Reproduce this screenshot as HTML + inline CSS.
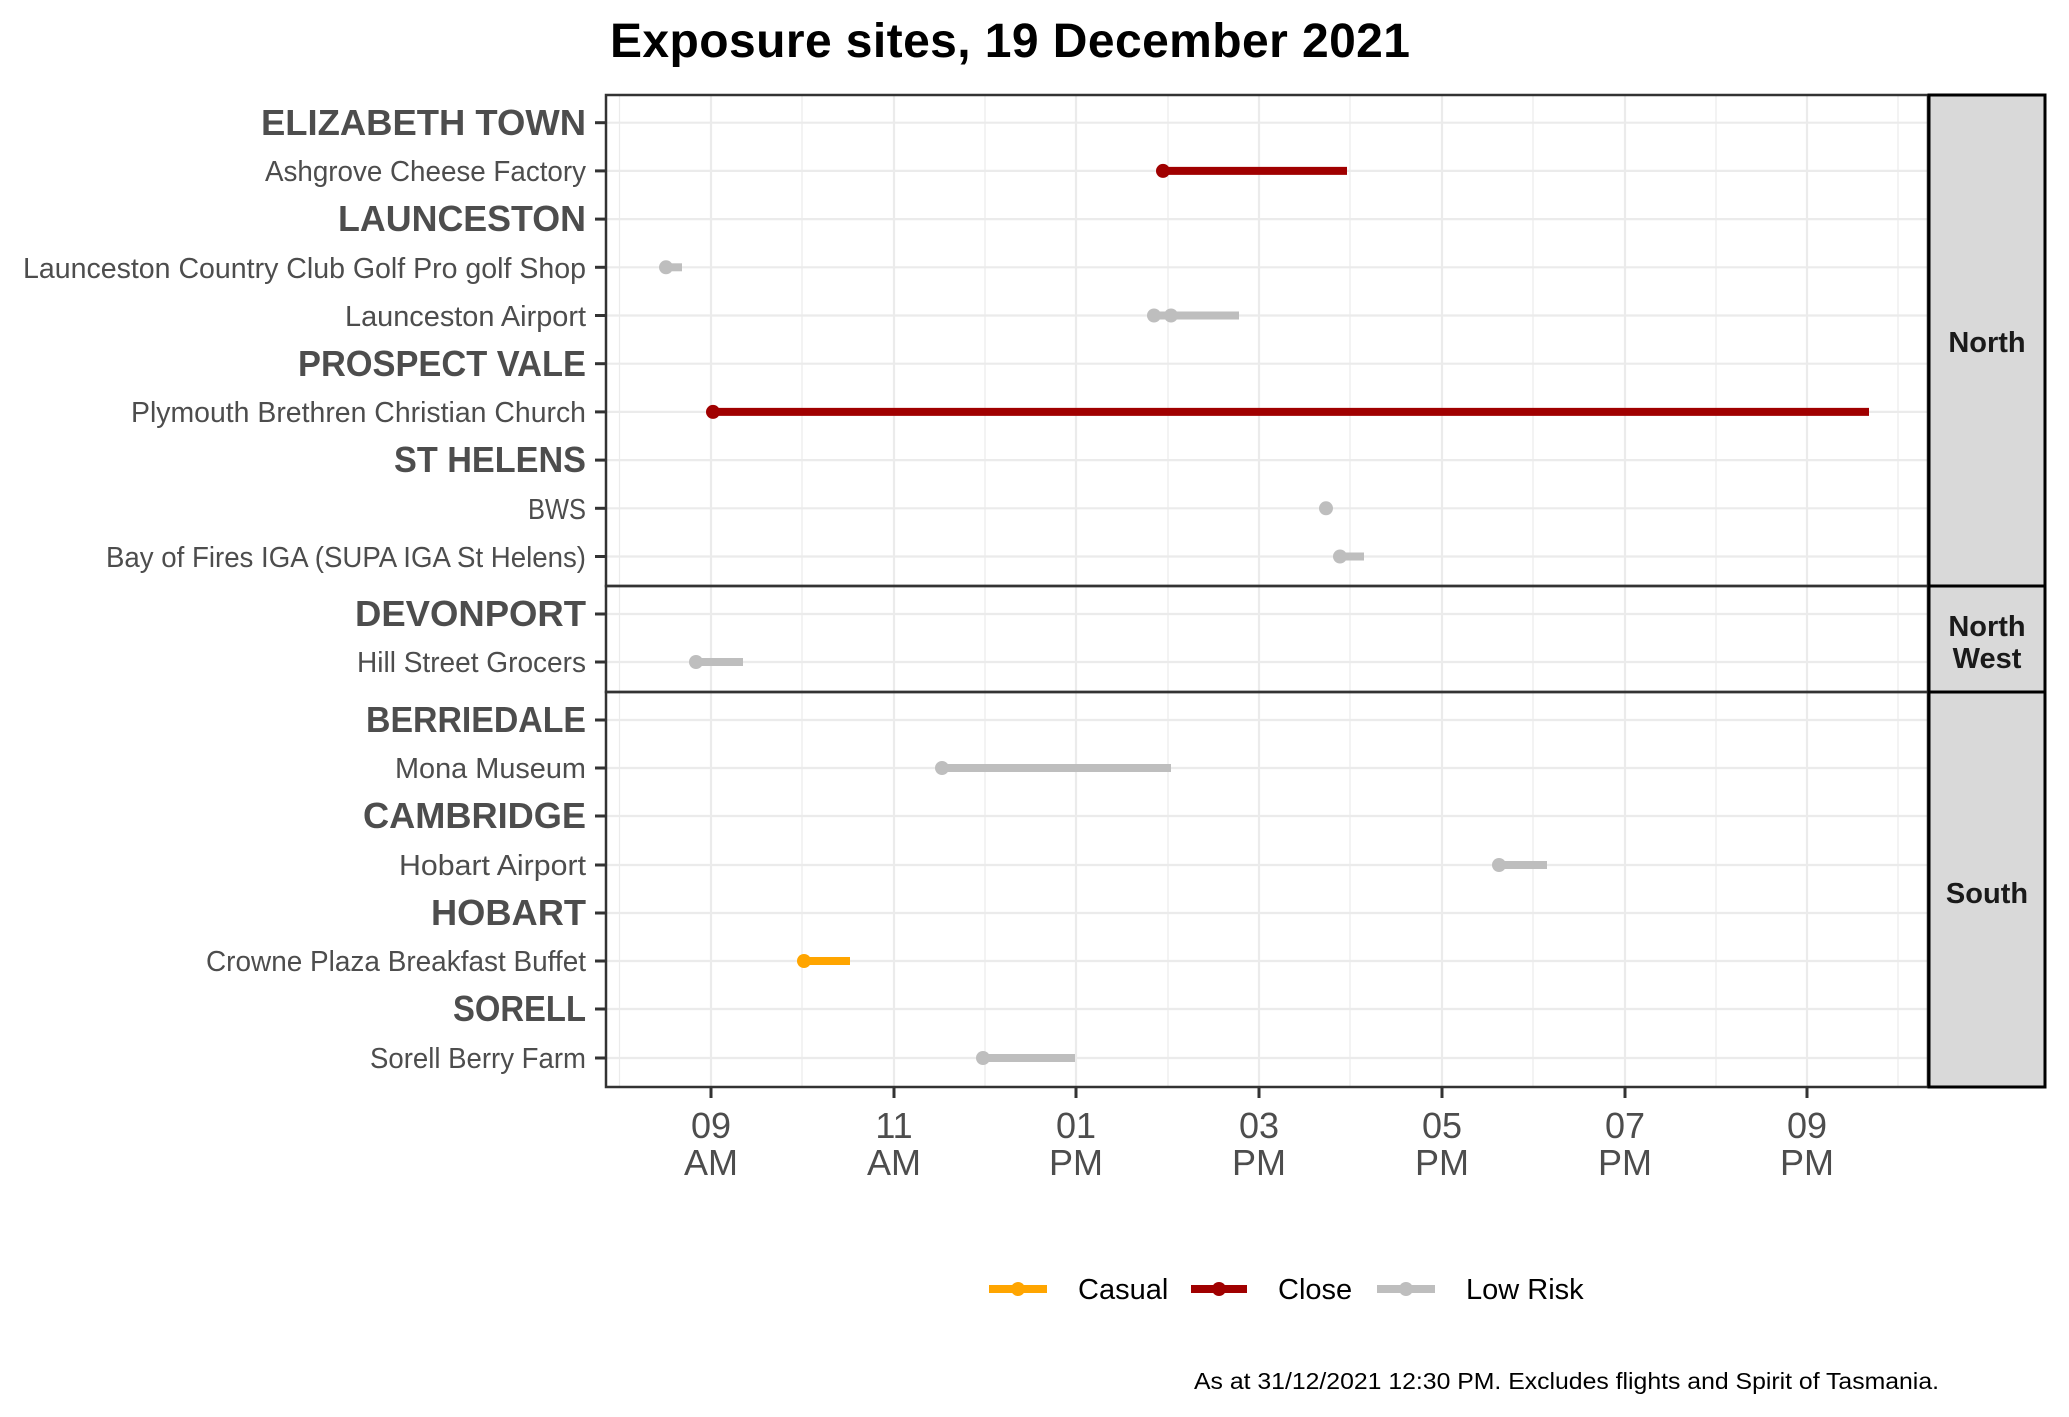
<!DOCTYPE html>
<html><head><meta charset="utf-8"><style>html,body{margin:0;padding:0;background:#fff}svg{display:block}</style></head>
<body>
<svg width="2069" height="1417" viewBox="0 0 2069 1417" xmlns="http://www.w3.org/2000/svg" font-family="Liberation Sans, DejaVu Sans, sans-serif">
<rect width="2069" height="1417" fill="#fff"/>
<text x="1010" y="57" font-size="48" font-weight="bold" text-anchor="middle" fill="#000" textLength="800">Exposure sites, 19 December 2021</text>
<g stroke="#EBEBEB">
<g stroke-width="1.2">
<line x1="619.5" y1="95" x2="619.5" y2="1087"/><line x1="802" y1="95" x2="802" y2="1087"/><line x1="985" y1="95" x2="985" y2="1087"/><line x1="1168" y1="95" x2="1168" y2="1087"/><line x1="1350" y1="95" x2="1350" y2="1087"/><line x1="1533" y1="95" x2="1533" y2="1087"/><line x1="1716" y1="95" x2="1716" y2="1087"/><line x1="1898" y1="95" x2="1898" y2="1087"/>
</g>
<g stroke-width="2.2">
<line x1="711" y1="95" x2="711" y2="1087"/><line x1="894" y1="95" x2="894" y2="1087"/><line x1="1076" y1="95" x2="1076" y2="1087"/><line x1="1259" y1="95" x2="1259" y2="1087"/><line x1="1442" y1="95" x2="1442" y2="1087"/><line x1="1625" y1="95" x2="1625" y2="1087"/><line x1="1807" y1="95" x2="1807" y2="1087"/>
<line x1="606" y1="122.7" x2="1928" y2="122.7"/><line x1="606" y1="170.9" x2="1928" y2="170.9"/><line x1="606" y1="219.1" x2="1928" y2="219.1"/><line x1="606" y1="267.3" x2="1928" y2="267.3"/><line x1="606" y1="315.5" x2="1928" y2="315.5"/><line x1="606" y1="363.7" x2="1928" y2="363.7"/><line x1="606" y1="411.9" x2="1928" y2="411.9"/><line x1="606" y1="460.1" x2="1928" y2="460.1"/><line x1="606" y1="508.3" x2="1928" y2="508.3"/><line x1="606" y1="556.5" x2="1928" y2="556.5"/>
<line x1="606" y1="614" x2="1928" y2="614"/><line x1="606" y1="662" x2="1928" y2="662"/>
<line x1="606" y1="720" x2="1928" y2="720"/><line x1="606" y1="768" x2="1928" y2="768"/><line x1="606" y1="816" x2="1928" y2="816"/><line x1="606" y1="865" x2="1928" y2="865"/><line x1="606" y1="913" x2="1928" y2="913"/><line x1="606" y1="961" x2="1928" y2="961"/><line x1="606" y1="1009" x2="1928" y2="1009"/><line x1="606" y1="1058" x2="1928" y2="1058"/>
</g></g>
<g stroke-width="8">
<line x1="1163" y1="170.9" x2="1347" y2="170.9" stroke="#A00000"/>
<line x1="666" y1="267.3" x2="682" y2="267.3" stroke="#BEBEBE"/>
<line x1="1154" y1="315.5" x2="1239" y2="315.5" stroke="#BEBEBE"/>
<line x1="713" y1="411.9" x2="1869" y2="411.9" stroke="#A00000"/>
<line x1="1340" y1="556.5" x2="1364" y2="556.5" stroke="#BEBEBE"/>
<line x1="696" y1="662" x2="743" y2="662" stroke="#BEBEBE"/>
<line x1="942" y1="768" x2="1171" y2="768" stroke="#BEBEBE"/>
<line x1="1499" y1="865" x2="1547" y2="865" stroke="#BEBEBE"/>
<line x1="804" y1="961" x2="850" y2="961" stroke="#FFA500"/>
<line x1="983" y1="1058" x2="1075" y2="1058" stroke="#BEBEBE"/>
</g>
<g>
<circle cx="1163" cy="170.9" r="7" fill="#A00000"/>
<circle cx="666" cy="267.3" r="7" fill="#BEBEBE"/>
<circle cx="1154" cy="315.5" r="7" fill="#BEBEBE"/><circle cx="1171" cy="315.5" r="7" fill="#BEBEBE"/>
<circle cx="713" cy="411.9" r="7" fill="#A00000"/>
<circle cx="1326" cy="508.3" r="7" fill="#BEBEBE"/>
<circle cx="1340" cy="556.5" r="7" fill="#BEBEBE"/>
<circle cx="696" cy="662" r="7" fill="#BEBEBE"/>
<circle cx="942" cy="768" r="7" fill="#BEBEBE"/>
<circle cx="1499" cy="865" r="7" fill="#BEBEBE"/>
<circle cx="804" cy="961" r="7" fill="#FFA500"/>
<circle cx="983" cy="1058" r="7" fill="#BEBEBE"/>
</g>
<g fill="none" stroke="#333" stroke-width="2.5">
<rect x="606" y="95" width="1322" height="491"/>
<rect x="606" y="586" width="1322" height="106"/>
<rect x="606" y="692" width="1322" height="395"/>
</g>
<g fill="#D9D9D9" stroke="#000" stroke-width="3">
<rect x="1929" y="95" width="116" height="491"/>
<rect x="1929" y="586" width="116" height="106"/>
<rect x="1929" y="692" width="116" height="395"/>
</g>
<g font-size="29" font-weight="bold" fill="#1a1a1a" text-anchor="middle">
<text x="1987" y="352">North</text>
<text x="1987" y="636">North</text><text x="1987" y="668">West</text>
<text x="1987" y="903">South</text>
</g>
<g stroke="#333" stroke-width="3">
<line x1="595" y1="122.7" x2="606" y2="122.7"/><line x1="595" y1="170.9" x2="606" y2="170.9"/><line x1="595" y1="219.1" x2="606" y2="219.1"/><line x1="595" y1="267.3" x2="606" y2="267.3"/><line x1="595" y1="315.5" x2="606" y2="315.5"/><line x1="595" y1="363.7" x2="606" y2="363.7"/><line x1="595" y1="411.9" x2="606" y2="411.9"/><line x1="595" y1="460.1" x2="606" y2="460.1"/><line x1="595" y1="508.3" x2="606" y2="508.3"/><line x1="595" y1="556.5" x2="606" y2="556.5"/>
<line x1="595" y1="614" x2="606" y2="614"/><line x1="595" y1="662" x2="606" y2="662"/>
<line x1="595" y1="720" x2="606" y2="720"/><line x1="595" y1="768" x2="606" y2="768"/><line x1="595" y1="816" x2="606" y2="816"/><line x1="595" y1="865" x2="606" y2="865"/><line x1="595" y1="913" x2="606" y2="913"/><line x1="595" y1="961" x2="606" y2="961"/><line x1="595" y1="1009" x2="606" y2="1009"/><line x1="595" y1="1058" x2="606" y2="1058"/>
<line x1="711" y1="1087" x2="711" y2="1098"/><line x1="894" y1="1087" x2="894" y2="1098"/><line x1="1076" y1="1087" x2="1076" y2="1098"/><line x1="1259" y1="1087" x2="1259" y2="1098"/><line x1="1442" y1="1087" x2="1442" y2="1098"/><line x1="1625" y1="1087" x2="1625" y2="1098"/><line x1="1807" y1="1087" x2="1807" y2="1098"/>
</g>
<g fill="#4D4D4D" text-anchor="end">
<g font-size="36" font-weight="bold">
<text x="586" y="135" textLength="325" lengthAdjust="spacingAndGlyphs">ELIZABETH TOWN</text>
<text x="586" y="231" textLength="248" lengthAdjust="spacingAndGlyphs">LAUNCESTON</text>
<text x="586" y="376" textLength="288" lengthAdjust="spacingAndGlyphs">PROSPECT VALE</text>
<text x="586" y="472" textLength="192" lengthAdjust="spacingAndGlyphs">ST HELENS</text>
<text x="586" y="626" textLength="231" lengthAdjust="spacingAndGlyphs">DEVONPORT</text>
<text x="586" y="732" textLength="220" lengthAdjust="spacingAndGlyphs">BERRIEDALE</text>
<text x="586" y="828" textLength="223" lengthAdjust="spacingAndGlyphs">CAMBRIDGE</text>
<text x="586" y="925" textLength="155" lengthAdjust="spacingAndGlyphs">HOBART</text>
<text x="586" y="1021" textLength="133" lengthAdjust="spacingAndGlyphs">SORELL</text>
</g>
<g font-size="29">
<text x="586" y="181" textLength="321" lengthAdjust="spacingAndGlyphs">Ashgrove Cheese Factory</text>
<text x="586" y="278" textLength="563" lengthAdjust="spacingAndGlyphs">Launceston Country Club Golf Pro golf Shop</text>
<text x="586" y="326" textLength="241" lengthAdjust="spacingAndGlyphs">Launceston Airport</text>
<text x="586" y="422" textLength="455" lengthAdjust="spacingAndGlyphs">Plymouth Brethren Christian Church</text>
<text x="586" y="519" textLength="58" lengthAdjust="spacingAndGlyphs">BWS</text>
<text x="586" y="567" textLength="480" lengthAdjust="spacingAndGlyphs">Bay of Fires IGA (SUPA IGA St Helens)</text>
<text x="586" y="672" textLength="229" lengthAdjust="spacingAndGlyphs">Hill Street Grocers</text>
<text x="586" y="778" textLength="191" lengthAdjust="spacingAndGlyphs">Mona Museum</text>
<text x="586" y="875" textLength="187" lengthAdjust="spacingAndGlyphs">Hobart Airport</text>
<text x="586" y="971" textLength="380" lengthAdjust="spacingAndGlyphs">Crowne Plaza Breakfast Buffet</text>
<text x="586" y="1068" textLength="216" lengthAdjust="spacingAndGlyphs">Sorell Berry Farm</text>
</g>
</g>
<g fill="#4D4D4D" font-size="36" text-anchor="middle">
<text x="711" y="1138">09</text><text x="711" y="1175">AM</text>
<text x="894" y="1138">11</text><text x="894" y="1175">AM</text>
<text x="1076" y="1138">01</text><text x="1076" y="1175">PM</text>
<text x="1259" y="1138">03</text><text x="1259" y="1175">PM</text>
<text x="1442" y="1138">05</text><text x="1442" y="1175">PM</text>
<text x="1625" y="1138">07</text><text x="1625" y="1175">PM</text>
<text x="1807" y="1138">09</text><text x="1807" y="1175">PM</text>
</g>
<g stroke-width="8">
<line x1="989" y1="1289" x2="1047" y2="1289" stroke="#FFA500"/>
<line x1="1191" y1="1289" x2="1247" y2="1289" stroke="#A00000"/>
<line x1="1377" y1="1289" x2="1435" y2="1289" stroke="#BEBEBE"/>
</g>
<circle cx="1018" cy="1289" r="7" fill="#FFA500"/>
<circle cx="1219" cy="1289" r="7" fill="#A00000"/>
<circle cx="1406" cy="1289" r="7" fill="#BEBEBE"/>
<g font-size="29" fill="#000">
<text x="1078" y="1299">Casual</text>
<text x="1278" y="1299">Close</text>
<text x="1466" y="1299">Low Risk</text>
</g>
<text x="1939" y="1389" font-size="23" fill="#000" text-anchor="end" textLength="745" lengthAdjust="spacingAndGlyphs">As at 31/12/2021 12:30 PM. Excludes flights and Spirit of Tasmania.</text>
</svg>
</body></html>
